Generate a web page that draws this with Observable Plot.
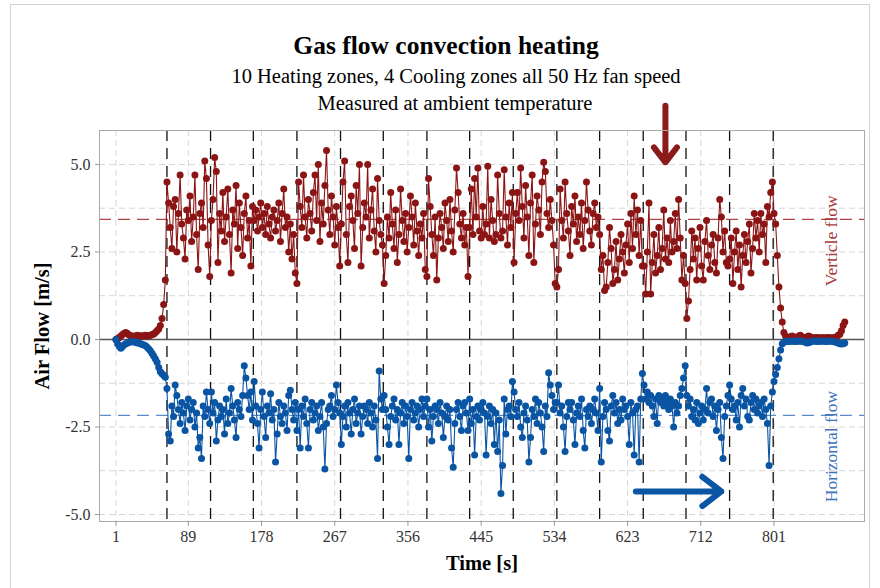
<!DOCTYPE html>
<html>
<head>
<meta charset="utf-8">
<script src="https://cdn.jsdelivr.net/npm/d3@7"></script>
<script src="https://cdn.jsdelivr.net/npm/@observablehq/plot@0.6"></script>
<style>
  html, body { margin: 0; padding: 0; background: #fff; }
  #wrap { position: relative; width: 880px; height: 588px; overflow: hidden; font-family: "Liberation Serif", "Times New Roman", serif; }
  #border { position: absolute; left: 10px; top: 4px; width: 860px; height: 700px; border: 1px solid #d4d4d4; box-sizing: border-box; }
  #head { position: relative; height: 120px; }
  .ttl { position: absolute; white-space: nowrap; transform: translate(-50%, -50%); color: #000; }
  #t1 { left: 446px; top: 46px; font-size: 25.5px; font-weight: bold; }
  #t2 { left: 456px; top: 76px; font-size: 20.5px; }
  #t3 { left: 455px; top: 103px; font-size: 20.5px; }
  #chart { position: relative; }
</style>
</head>
<body>
<div id="wrap">
  <div id="border"></div>
  <div id="head">
    <div class="ttl" id="t1">Gas flow convection heating</div>
    <div class="ttl" id="t2">10 Heating zones, 4 Cooling zones all 50 Hz fan speed</div>
    <div class="ttl" id="t3">Measured at ambient temperature</div>
  </div>
  <div id="chart"></div>
</div>
<script>
// Sampling: one reading every 2 s starting at t = 1 s
const startTime = 1;
const sampleStep = 2;

// Vertical ("Verticle") air flow [m/s]
const verticalFlow = [
  0.0, 0.03, 0.06, 0.1, 0.14, 0.18, 0.2, 0.17, 0.13, 0.1,
  0.1, 0.09, 0.1, 0.12, 0.1, 0.1, 0.11, 0.1, 0.12, 0.1,
  0.1, 0.12, 0.14, 0.16, 0.2, 0.25, 0.3, 0.4, 0.6, 1.0, 1.7,
  4.5, 3.9, 3.2, 2.6, 3.8, 4.0, 2.5, 3.6, 4.7, 3.3, 2.9, 2.3, 3.7, 3.4, 4.1, 2.8, 3.5, 4.7, 3.0, 2.0, 3.6, 3.9, 3.2, 5.1, 4.6, 2.7, 1.8,
  3.4, 4.0, 5.2, 4.8, 2.2, 3.6, 3.1, 4.2, 2.8, 3.5, 4.3, 3.0, 1.9, 3.7, 3.3, 4.4, 2.6, 3.9, 3.2, 2.4, 3.6, 4.1, 2.9, 3.4, 2.1, 3.8,
  3.4, 3.7, 3.1, 3.5, 3.9, 3.2, 3.6, 3.0, 3.8, 3.3, 2.9, 3.5, 3.7, 3.1, 3.4, 3.9, 2.8, 3.6, 4.3, 3.2, 3.5, 2.5, 3.3, 2.3, 3.0, 1.9,
  1.6, 4.5, 3.8, 3.2, 4.7, 3.5, 2.9, 4.0, 3.6, 3.1, 4.2, 4.7, 3.4, 5.0, 2.8, 3.9, 3.3, 4.4, 5.4, 3.7, 3.0, 4.1, 3.5, 2.7, 3.8, 3.2, 2.1,
  3.3, 4.5, 5.1, 3.0, 2.2, 3.8, 4.1, 3.4, 2.6, 4.4, 3.6, 5.0, 2.1, 3.2, 3.9, 3.5, 5.0, 2.9, 3.7, 4.3, 3.1, 2.5, 4.6, 3.4, 3.0, 2.7,
  1.6, 2.4, 3.5, 2.9, 4.2, 3.3, 2.6, 3.7, 2.2, 3.0, 4.3, 3.4, 2.8, 3.6, 2.5, 3.2, 4.1, 3.5, 2.7, 3.9, 3.1, 2.4, 3.3, 2.9, 3.6, 2.0,
  1.8, 4.6, 3.8, 3.0, 2.4, 3.5, 1.7, 2.9, 3.6, 3.2, 2.6, 3.9, 3.4, 2.8, 4.0, 3.1, 2.5, 3.7, 4.9, 4.2, 3.3, 2.9, 3.6, 2.7, 3.2, 1.8,
  3.2, 4.3, 3.0, 4.6, 3.5, 4.9, 3.1, 2.9, 3.8, 3.0, 3.3, 4.95, 2.9, 4.0, 3.4, 2.8, 3.0, 4.7, 3.6, 2.9, 3.1, 4.85, 3.5, 2.7, 3.9, 3.2, 4.2,
  2.2, 3.6, 4.2, 3.4, 4.9, 3.8, 2.9, 4.4, 3.5, 2.4, 3.9, 4.7, 2.2, 3.3, 4.1, 3.7, 3.0, 4.5, 5.06, 4.8, 3.6, 3.2, 4.0, 3.4, 2.7, 1.6,
  1.5, 2.0, 4.3, 3.4, 2.9, 4.5, 3.6, 3.1, 2.4, 3.8, 3.3, 4.1, 2.8, 3.5, 3.0, 3.9, 2.6, 3.4, 4.5, 3.7, 3.1, 2.7, 3.6, 3.9, 3.2, 3.5,
  3.0, 2.0, 2.4, 1.4, 1.5, 2.2, 3.2, 2.6, 1.6, 2.0, 2.8, 1.7, 2.3, 3.0, 2.5, 1.9, 2.7, 3.3, 2.2, 3.6, 2.6, 4.1, 3.0, 3.7, 2.4, 3.4, 2.1,
  2.1, 1.3, 2.5, 3.9, 1.3, 2.2, 3.0, 1.9, 2.4, 3.2, 2.0, 2.6, 3.7, 2.3, 2.9, 2.2, 3.4, 2.5, 2.8, 3.6, 2.6, 4.0, 2.9, 1.7, 2.4, 1.6,
  0.6, 1.1, 2.0, 3.1, 2.3, 2.9, 1.7, 2.6, 3.2, 2.1, 1.7, 2.8, 3.4, 2.4, 2.0, 2.7, 3.0, 2.2, 1.9, 2.9, 4.0, 3.5, 2.5, 3.1, 2.2, 2.1,
  2.3, 2.9, 1.6, 2.5, 3.1, 2.0, 2.7, 1.5, 2.4, 3.0, 2.2, 2.8, 3.3, 1.9, 2.6, 3.6, 2.9, 3.4, 2.5, 3.6, 3.0, 3.3, 2.2, 3.8, 3.5, 4.2, 4.5,
  3.6, 3.3, 2.4, 1.5, 0.9, 0.5, 0.2, 0.1, 0.06, 0.05,
  0.08, 0.1, 0.07, 0.05, 0.06, 0.1, 0.12, 0.08, 0.06, 0.05,
  0.07, 0.1, 0.08, 0.05, 0.04, 0.05, 0.06, 0.05, 0.04, 0.05,
  0.05, 0.04, 0.05, 0.06, 0.05, 0.04, 0.05, 0.06, 0.08, 0.12,
  0.15, 0.25, 0.4, 0.5
];

// Horizontal air flow [m/s]
const horizontalFlow = [
  0.0, -0.12, -0.2, -0.25, -0.2, -0.15, -0.12, -0.1, -0.08, -0.07,
  -0.06, -0.07, -0.08, -0.1, -0.1, -0.12, -0.14, -0.16, -0.18, -0.22,
  -0.27, -0.33, -0.4, -0.48, -0.56, -0.65, -0.8, -0.92, -0.98, -1.02, -1.08,
  -1.4, -2.7, -2.9, -1.9, -2.2, -1.3, -1.6, -2.0, -2.4, -1.8, -2.1, -2.6, -1.9, -1.7, -2.3, -2.0, -1.8, -2.5, -2.1, -3.1, -2.8, -3.4, -1.9, -2.2, -1.5, -2.0, -2.4,
  -1.5, -2.1, -1.8, -2.9, -2.3, -1.9, -2.2, -2.0, -2.7, -1.7, -2.4, -2.1, -1.4, -1.9, -2.3, -2.8, -1.8, -2.0, -2.2, -1.6, -0.75, -1.1, -1.6, -2.0, -1.5, -2.3,
  -1.2, -1.9, -2.4, -3.1, -2.0, -1.5, -2.2, -2.8, -1.9, -2.1, -1.55, -2.3, -2.0, -3.5, -2.7, -1.8, -2.2, -2.4, -1.9, -2.1, -2.6, -1.6, -1.45, -2.0, -2.3, -1.8,
  -2.6, -2.0, -3.1, -1.9, -2.2, -1.7, -2.4, -3.1, -2.0, -1.8, -2.3, -2.1, -1.9, -2.6, -2.2, -1.8, -2.5, -3.7, -2.4, -2.0, -1.9, -1.6, -2.2, -2.0, -1.3, -1.8, -2.1,
  -3.0, -2.2, -1.9, -2.5, -1.8, -2.1, -2.7, -2.0, -1.7, -2.4, -2.1, -1.9, -2.7, -2.2, -1.9, -2.0, -2.4, -1.8, -2.1, -2.5, -1.9, -2.3, -3.4, -0.9, -1.7, -2.0,
  -1.6, -2.0, -2.5, -3.0, -2.2, -1.9, -1.7, -2.3, -2.0, -3.0, -2.1, -1.8, -2.4, -1.9, -2.2, -3.4, -2.0, -1.8, -2.3, -2.1, -1.9, -2.5, -2.0, -1.7, -2.2, -1.9,
  -1.7, -2.5, -2.0, -2.9, -2.2, -1.9, -2.0, -2.4, -1.8, -2.1, -2.8, -2.2, -1.9, -2.3, -2.0, -3.1, -3.65, -2.4, -2.0, -1.8, -2.2, -2.6, -1.9, -1.8, -2.1, -2.6,
  -1.7, -2.4, -2.0, -3.3, -2.2, -1.9, -2.3, -2.0, -1.8, -2.1, -3.3, -2.2, -1.9, -2.4, -2.0, -3.0, -2.1, -3.2, -2.3, -4.4, -3.6, -1.7, -2.7, -2.0, -1.9, -2.2, -1.2,
  -1.5, -2.0, -2.2, -1.8, -2.5, -2.8, -2.1, -1.9, -2.3, -3.5, -2.8, -2.0, -2.2, -1.7, -2.4, -1.8, -2.1, -2.5, -3.2, -1.9, -2.2, -0.95, -1.3, -1.6, -2.0, -1.8,
  -1.8, -1.3, -2.1, -1.9, -2.5, -3.2, -2.2, -1.8, -2.0, -1.8, -2.3, -3.0, -2.1, -1.9, -2.2, -1.7, -2.6, -3.1, -2.0, -2.2, -1.9, -2.4, -2.0, -1.7, -2.1, -2.6,
  -1.4, -3.5, -2.2, -1.8, -2.0, -2.6, -2.9, -1.9, -1.6, -2.1, -1.8, -2.4, -2.0, -2.3, -1.7, -2.0, -1.9, -2.2, -3.0, -1.8, -2.1, -3.3, -2.0, -1.9, -3.5, -1.7, -0.97,
  -1.3, -1.7, -1.5, -1.8, -1.6, -1.9, -2.2, -1.7, -2.4, -1.6, -1.8, -1.7, -1.9, -1.6, -1.8, -2.0, -1.7, -1.9, -2.5, -1.8, -2.1, -1.9, -1.6, -1.4, -1.1, -0.75,
  -1.6, -1.9, -1.7, -2.2, -2.0, -2.3, -1.8, -2.4, -2.1, -1.9, -2.3, -2.0, -1.4, -2.1, -1.8, -1.7, -2.2, -1.9, -2.6, -2.0, -1.8, -2.8, -3.4, -2.2, -1.9, -1.6,
  -1.3, -1.7, -2.0, -1.9, -2.3, -1.8, -2.5, -1.6, -1.4, -1.9, -1.7, -2.2, -2.3, -1.8, -1.6, -2.0, -1.7, -2.1, -1.9, -1.8, -2.2, -1.7, -2.0, -2.4, -3.6, -1.9, -1.5,
  -1.2, -1.0, -0.8, -0.55, -0.3, -0.12, -0.08, -0.06, -0.05, -0.06,
  -0.05, -0.04, -0.05, -0.06, -0.05, -0.04, -0.05, -0.05, -0.06, -0.08,
  -0.1, -0.09, -0.07, -0.05, -0.04, -0.05, -0.05, -0.06, -0.05, -0.04,
  -0.05, -0.05, -0.06, -0.05, -0.04, -0.05, -0.06, -0.07, -0.08, -0.1,
  -0.12, -0.13, -0.12, -0.1
];

// Zone boundaries (time, s)
const zoneBounds = [63, 116, 168, 221, 274, 326, 379, 431, 484, 537, 589, 642, 694, 747, 800];
// Mean levels [m/s]
const meanVertical = 3.43;
const meanHorizontal = -2.17;
// Axis ticks
const xTicks = [1, 89, 178, 267, 356, 445, 534, 623, 712, 801];
const yTicks = [-5, -2.5, 0, 2.5, 5];
const yGrid = [-5, -3.75, -2.5, -1.25, 0, 1.25, 2.5, 3.75, 5];
// Series labels
const seriesLabels = [
  {name: "Verticle flow", t: 871, v: 2.82, color: "#a83a3a"},
  {name: "Horizontal flow", t: 871, v: -3.06, color: "#3f72bd"}
];
// Annotation arrows
const arrows = [
  {t1: 669, v1: 6.68, t2: 669, v2: 5.06, color: "#8b1a1a"},
  {t1: 633, v1: -4.34, t2: 737, v2: -4.34, color: "#0b55a5"}
];

const red = "#8b1515";
const blue = "#0a55a3";
const rows = (vals) => vals.map((v, i) => ({t: startTime + i * sampleStep, v}));
const vRows = rows(verticalFlow);
const hRows = rows(horizontalFlow);

const chart = Plot.plot({
  width: 880,
  height: 468,
  marginLeft: 99,
  marginRight: 16,
  marginTop: 10,
  marginBottom: 67,
  style: {fontFamily: '"Liberation Serif", "Times New Roman", serif', fontSize: "16px", overflow: "visible", background: "transparent", color: "#333"},
  x: {domain: [-19, 911]},
  y: {domain: [-5.2, 5.97]},
  marks: [
    Plot.gridY(yGrid, {stroke: "#d6d6d6", strokeOpacity: 1, strokeDasharray: "6,4"}),
    Plot.gridX(xTicks, {stroke: "#d6d6d6", strokeOpacity: 1, strokeDasharray: "6,4"}),
    Plot.ruleY([meanVertical], {stroke: "#b04545", strokeWidth: 1.3, strokeDasharray: "12,7"}),
    Plot.ruleY([meanHorizontal], {stroke: "#5b8cc9", strokeWidth: 1.3, strokeDasharray: "12,7"}),
    Plot.ruleY([0], {stroke: "#555", strokeWidth: 1.5}),
    Plot.ruleX(zoneBounds, {stroke: "#111", strokeWidth: 1.3, strokeDasharray: "11,7"}),
    Plot.line(vRows, {x: "t", y: "v", stroke: red, strokeWidth: 1.1}),
    Plot.dot(vRows, {x: "t", y: "v", r: 3.5, fill: red}),
    Plot.line(hRows, {x: "t", y: "v", stroke: blue, strokeWidth: 1.1}),
    Plot.dot(hRows, {x: "t", y: "v", r: 3.5, fill: blue}),
    Plot.text(seriesLabels, {x: "t", y: "v", text: "name", fill: "color", rotate: -90, fontSize: 17.5}),
    Plot.arrow(arrows, {x1: "t1", y1: "v1", x2: "t2", y2: "v2", stroke: "color", strokeWidth: 6, headLength: 6, headAngle: 75}),
    Plot.frame({stroke: "#aaa"}),
    Plot.axisX(xTicks, {tickSize: 5, tickPadding: 4, tickFormat: (d) => String(d), label: null, stroke: "#999", fill: "#333", fontSize: 16}),
    Plot.axisY(yTicks, {tickSize: 4, tickPadding: 5, tickFormat: (d) => d.toFixed(1), label: null, stroke: "#999", fill: "#333", fontSize: 16}),
    Plot.text(["Time [s]"], {text: (d) => d, frameAnchor: "bottom", lineAnchor: "middle", dy: 42, fontWeight: "bold", fontSize: 20.5, fill: "#000"}),
    Plot.text(["Air Flow [m/s]"], {text: (d) => d, frameAnchor: "left", textAnchor: "middle", dx: -57, rotate: -90, fontWeight: "bold", fontSize: 20.5, fill: "#000"})
  ]
});
document.getElementById("chart").appendChild(chart);
</script>
</body>
</html>
